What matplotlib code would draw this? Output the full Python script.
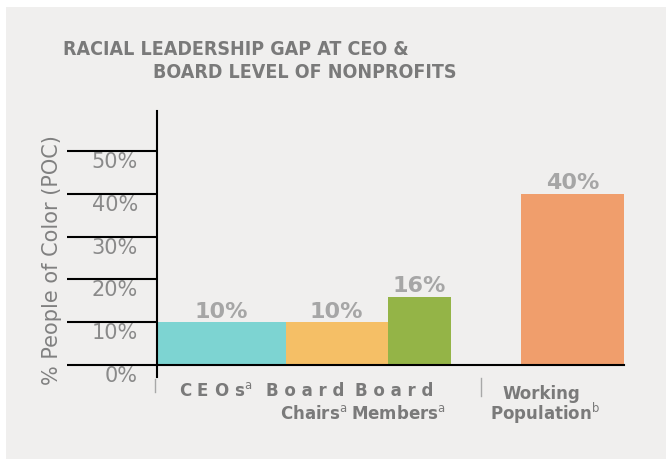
import matplotlib.pyplot as plt
from matplotlib import font_manager
from matplotlib.patches import Rectangle

# dados do grafico
categorias = ['CEOs', 'Board Chairs', 'Board Members', 'Working Population']
valores = [10, 10, 16, 40]
cores = ['#7dd4d2', '#f5bf66', '#94b447', '#f09e6c']
rotulos_valor = ['10%', '10%', '16%', '40%']
ticks_y = [0, 10, 20, 30, 40, 50]
rotulos_y = ['0%', '10%', '20%', '30%', '40%', '50%']

# layout das barras (largura variavel, como no original)
esquerda = [0, 129, 230.5, 364]
larguras = [129, 101.5, 63, 103]

# fonte condensada para o titulo, se existir
tem_condensada = any(f.name == 'DejaVu Sans' and f.stretch == 'condensed'
                     for f in font_manager.fontManager.ttflist)
estica = 'condensed' if tem_condensada else 'normal'
tam_titulo = 14 if tem_condensada else 13

cinza_fundo = '#f0efee'
cinza_texto = '#7a7a7a'

fig = plt.figure(figsize=(6.66, 4.6), dpi=100)
fig.patches.append(Rectangle((6 / 666, 0), 1, (460 - 8) / 460, transform=fig.transFigure,
                             facecolor=cinza_fundo, edgecolor='none', zorder=-10))

ax = fig.add_axes([157 / 666, (460 - 378) / 460, 467 / 666, 266 / 460])
ax.set_facecolor('none')

barras = ax.bar(esquerda, valores, width=larguras, align='edge', color=cores, edgecolor='none')

# rotulos de valor acima das barras
for b, txt in zip(barras, rotulos_valor):
    ax.annotate(txt, (b.get_x() + b.get_width() / 2, b.get_height()), xytext=(0, 4),
                textcoords='offset points', ha='center', va='baseline',
                fontsize=16, fontweight='bold', color='#a6a6a6')

ax.set_xlim(0, 467)
ax.set_ylim(-2.8, 59.4)
ax.set_xticks([])
ax.set_yticks(ticks_y)
ax.set_yticklabels(rotulos_y, fontsize=15, color='#8a8a8a')
plt.setp(ax.get_yticklabels(), va='top')
ax.tick_params(axis='y', length=64.8, width=1.5, color='black', pad=-51)

ax.spines['top'].set_visible(False)
ax.spines['right'].set_visible(False)
ax.spines['left'].set_linewidth(1.5)
ax.spines['bottom'].set_linewidth(1.5)
ax.spines['bottom'].set_position(('data', 0))

ax.set_ylabel('% People of Color (POC)', fontsize=15, color='#808080')
ax.yaxis.set_label_coords(-0.203, 0.444)

# rotulos das categorias (posicao e deslocamento em pontos abaixo do eixo)
rotulos_x = [
    ('C E O s$^{\\mathrm{a}}$', 59, 21.6),
    ('B o a r d', 148, 21.6),
    ('Chairs$^{\\mathrm{a}}$', 157, 38),
    ('B o a r d', 237, 21.6),
    ('Members$^{\\mathrm{a}}$', 241, 38),
    ('Working', 384, 23.8),
    ('Population$^{\\mathrm{b}}$', 388, 38.5),
]
for txt, x, dy in rotulos_x:
    ax.annotate(txt, (x, 0), xytext=(0, -dy), textcoords='offset points',
                ha='center', va='baseline', fontsize=12, fontweight='bold',
                color=cinza_texto, annotation_clip=False)

# pequenos separadores cinza
trans = ax.get_xaxis_transform()
ax.plot([-2, -2], [-0.0075, -0.056], color='#a8a8a8', lw=1, transform=trans, clip_on=False)
ax.plot([324, 324], [-0.004, -0.071], color='#a8a8a8', lw=1, transform=trans, clip_on=False)

# titulo
fig.text(63 / 666, 1 - 55 / 460, 'RACIAL LEADERSHIP GAP AT CEO &', fontstretch=estica,
         fontsize=tam_titulo, fontweight='bold', color=cinza_texto, va='baseline')
fig.text(153 / 666, 1 - 78 / 460, 'BOARD LEVEL OF NONPROFITS', fontstretch=estica,
         fontsize=tam_titulo, fontweight='bold', color=cinza_texto, va='baseline')

fig.savefig('out.png', dpi=100)
